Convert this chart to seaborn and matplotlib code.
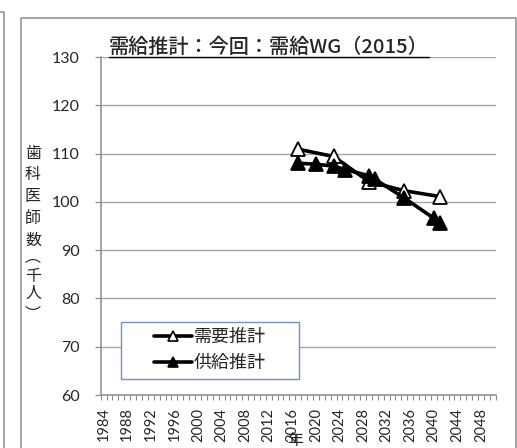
# 需給推計 chart (dentists, thousand people) recreated with seaborn
import matplotlib
matplotlib.use("Agg")
import matplotlib.pyplot as plt
import seaborn as sns
import pandas as pd
from matplotlib.patches import Rectangle
from matplotlib.lines import Line2D
from matplotlib.ticker import MultipleLocator

# data
demand_years = [2017, 2023, 2029, 2035, 2041]
demand_vals = [110.9, 109.4, 104.2, 102.3, 101.1]
supply_years = [2017, 2020, 2023, 2025, 2029, 2030, 2035, 2040, 2041]
supply_vals = [108.0, 107.8, 107.4, 106.7, 105.4, 104.7, 100.8, 96.6, 95.6]
x_tick_years = list(range(1984, 2049, 4))
y_tick_vals = [60, 70, 80, 90, 100, 110, 120, 130]
series_names = ['需要推計', '供給推計']
title_text = '需給推計：今回：需給WG（2015）'
ylabel_chars = ['歯', '科', '医', '師', '数', '︵', '千', '人', '︶']

sns.set_style("white")
plt.rcParams['font.family'] = ['Noto Sans CJK JP', 'DejaVu Sans']

W, H = 517, 448
GRAY = '#8C8C8C'


def fx(px):
    return px / W


def fy(py):
    return 1 - py / H


fig = plt.figure(figsize=(W / 100, H / 100), dpi=100)
ax = fig.add_axes([fx(100.7), 53 / H, 395 / W, 338 / H])

demand_df = pd.DataFrame({'year': demand_years, 'value': demand_vals})
supply_df = pd.DataFrame({'year': supply_years, 'value': supply_vals})

sns.lineplot(data=demand_df, x='year', y='value', ax=ax, color='black', lw=2.6,
             marker='^', ms=10.5, mfc='white', mec='black', mew=1.3, zorder=4)
sns.lineplot(data=supply_df, x='year', y='value', ax=ax, color='black', lw=2.6,
             marker='^', ms=10.5, mfc='black', mec='black', mew=1.3, zorder=5)

ax.set_xlim(1983.5, 2050.5)
ax.set_ylim(60, 130)
ax.set_xticks(x_tick_years)
ax.set_xticklabels([str(y) for y in x_tick_years], rotation=90)
ax.set_yticks(y_tick_vals)
ax.set_yticklabels([str(v) for v in y_tick_vals])
ax.xaxis.set_minor_locator(MultipleLocator(1, offset=0.5))
ax.tick_params(axis='x', which='major', length=0, pad=9, labelsize=10.5)
ax.tick_params(axis='x', which='minor', bottom=True, length=3.5, width=0.8,
               color=GRAY, direction='out')
ax.tick_params(axis='y', length=4.5, width=0.9, color=GRAY, pad=10.5,
               labelsize=11.5, left=True)
for lab in ax.get_xticklabels() + ax.get_yticklabels():
    lab.set_fontfamily('Lato')

ax.set_xlabel('')
ax.set_ylabel('')
ax.yaxis.grid(True, color='#A6A6A6', lw=1.0)
ax.set_axisbelow(True)
sns.despine(ax=ax)
for side in ['left', 'bottom']:
    ax.spines[side].set_color(GRAY)
    ax.spines[side].set_linewidth(1.1)

# legend: white box with blue edge, entries centred in it
bx0, by0 = (120.7 - 100.7) / 395, (448 - 379 - 53) / 338
bw, bh = (299 - 120.7) / 395, (379 - 321.7) / 338
ax.add_patch(Rectangle((bx0, by0), bw, bh, transform=ax.transAxes,
                       facecolor='white', edgecolor='#6E93CC', lw=1.0, zorder=3))
handles = [Line2D([], [], color='black', lw=2.6, marker='^', ms=7.5,
                  mfc='white', mec='black', mew=1.2),
           Line2D([], [], color='black', lw=2.6, marker='^', ms=7.5,
                  mfc='black', mec='black', mew=1.2)]
leg = ax.legend(handles, series_names, loc='center',
                bbox_to_anchor=(bx0 + bw / 2, by0 + bh / 2), frameon=False,
                fontsize=13, handlelength=2.1, handletextpad=0.1,
                labelspacing=0.45, borderpad=0)
leg.set_zorder(6)

# title (underlined)
title = fig.text(fx(269), fy(47), title_text, ha='center', va='center',
                 fontsize=14.5, fontweight='medium')

# vertical y-axis label, one character per line
ylab_y = [153, 175, 197, 218, 240, 257, 277, 293, 315]
for ch, py in zip(ylabel_chars, ylab_y):
    fig.text(fx(33), fy(py), ch, ha='center', va='center', fontsize=11.5)

# x-axis label
fig.text(fx(295), fy(440), '年', ha='center', va='center', fontsize=11.5)

# chart frame and the edge of the neighbouring frame
fig.add_artist(Line2D([fx(20.7), fx(20.7), fx(515.7), fx(515.7)],
                      [fy(448), fy(18.5), fy(18.5), fy(448)],
                      transform=fig.transFigure, color=GRAY, lw=1.1))
fig.add_artist(Line2D([fx(0), fx(4), fx(4)], [fy(11.7), fy(11.7), fy(448)],
                      transform=fig.transFigure, color=GRAY, lw=1.1))

fig.canvas.draw()
bb = title.get_window_extent()
fig.add_artist(Line2D([bb.x0 / W, bb.x1 / W], [fy(57.5), fy(57.5)],
                      transform=fig.transFigure, color='black', lw=1.0,
                      zorder=10))

fig.savefig('out.png', dpi=100)
